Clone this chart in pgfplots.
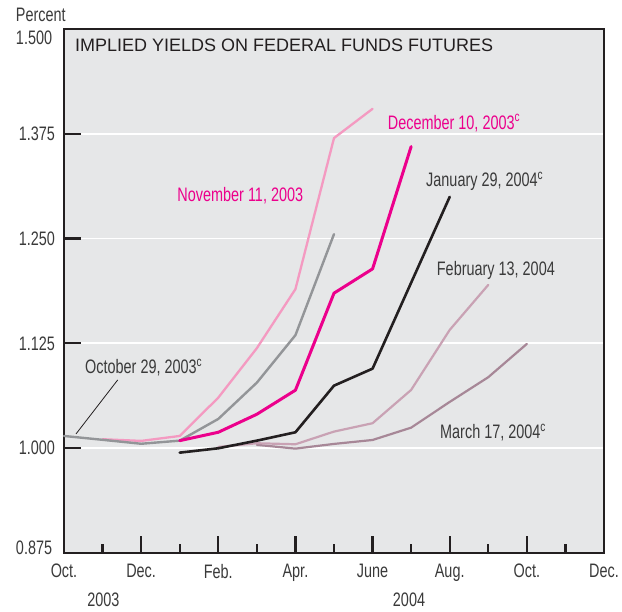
\documentclass[border=0pt]{standalone}
\usepackage{fontspec}
\setmainfont{Liberation Sans}
\newfontfamily\cond[FakeStretch=0.74]{Liberation Sans}
\usepackage{pgfplots}
\pgfplotsset{compat=1.18}
\definecolor{bg}{HTML}{E6E7E8}
\definecolor{frame}{HTML}{231F20}
\definecolor{labgray}{HTML}{3A3A3A}
\definecolor{cgray}{HTML}{939598}
\definecolor{clpink}{HTML}{F49AC1}
\definecolor{chpink}{HTML}{EC008C}
\definecolor{cblack}{HTML}{231F20}
\definecolor{cmauve}{HTML}{C9A2B4}
\definecolor{cdmauve}{HTML}{A78797}
\newcommand\lab{\cond\fontsize{19.5bp}{22bp}\selectfont}
\begin{document}
\begin{tikzpicture}
\useasboundingbox (-64bp,-59bp) rectangle (558bp,553bp);
\begin{axis}[at={(0,0)}, anchor=south west, scale only axis,
  width=540bp, height=524bp,
  xmin=0, xmax=14, ymin=0.875, ymax=1.5,
  axis background/.style={fill=bg},
  axis line style={line width=2.2bp, color=frame},
  xtick={0,2,...,14},
  xticklabels={Oct.,Dec.,Feb.,Apr.,June,Aug.,Oct.,Dec.},
  minor xtick={1,3,...,13},
  ytick={0.875,1,1.125,1.25,1.375,1.5},
  yticklabels={,1.000,1.125,1.250,1.375,},
  tick align=inside, tick pos=left,
  major tick length=17bp, minor tick length=9bp,
  tick style={line width=2.2bp, color=frame},
  ymajorgrids, grid style={white, line width=1.8bp},
  ticklabel style={font=\lab, text=labgray},
  xticklabel style={yshift=-7.5bp},
  yticklabel style={xshift=-5.5bp},
  clip=false,
  every axis plot/.append style={line join=round, line cap=round},
]
\addplot[cdmauve, line width=2.2bp] coordinates {(5,1.0040)(6,0.9995)(7,1.0051)(8,1.0098)(9,1.0245)(10,1.0552)(11,1.0847)(12,1.1244)};
\addplot[cmauve, line width=2.2bp] coordinates {(4,1.0015)(5,1.0059)(6,1.0047)(7,1.0198)(8,1.0298)(9,1.0695)(10,1.1411)(11,1.1948)};
\addplot[clpink, line width=2.3bp] coordinates {(1,1.0107)(2,1.0087)(3,1.0146)(4,1.0603)(5,1.1193)(6,1.1897)(7,1.3699)(8,1.4048)};
\addplot[cgray, line width=2.4bp] coordinates {(0,1.0146)(1,1.0100)(2,1.0053)(3,1.0090)(4,1.0349)(5,1.0782)(6,1.1348)(7,1.2553)};
\addplot[chpink, line width=3bp] coordinates {(3,1.0090)(4,1.0190)(5,1.0405)(6,1.0692)(7,1.1849)(8,1.2139)(9,1.3598)};
\addplot[cblack, line width=2.6bp] coordinates {(3,0.9947)(4,0.9999)(5,1.0090)(6,1.0190)(7,1.0746)(8,1.0949)(9,1.1974)(10,1.2998)};

\draw[line width=0.8bp, color=frame] (axis cs:1.392,1.0814) -- (axis cs:0.311,1.017);
\node[anchor=east, inner sep=0, font=\lab, text=labgray, xshift=-11.7bp, yshift=-9bp] at (axis cs:0,1.5) {1.500};
\node[anchor=east, inner sep=0, font=\lab, text=labgray, xshift=-11.7bp, yshift=5bp] at (axis cs:0,0.875) {0.875};
\node[anchor=base west, inner sep=0, font=\fontsize{18bp}{20bp}\selectfont, text=frame] at (axis cs:0.285,1.4735) {IMPLIED YIELDS ON FEDERAL FUNDS FUTURES};
\node[anchor=base west, inner sep=0, font=\lab, text=labgray] at (axis cs:-1.252,1.5087) {Percent};
\node[anchor=base, inner sep=0, font=\lab, text=labgray] at (axis cs:1.019,0.8106) {2003};
\node[anchor=base, inner sep=0, font=\lab, text=labgray] at (axis cs:8.945,0.8106) {2004};
\node[anchor=base, inner sep=0, font=\lab, text=chpink] at (axis cs:4.571,1.2940) {November 11, 2003};
\node[anchor=base west, inner sep=0, font=\lab, text=chpink] at (axis cs:8.392,1.3802) {December 10, 2003\textsuperscript{c}};
\node[anchor=base west, inner sep=0, font=\lab, text=labgray] at (axis cs:9.386,1.3118) {January 29, 2004\textsuperscript{c}};
\node[anchor=base west, inner sep=0, font=\lab, text=labgray] at (axis cs:9.663,1.2064) {February 13, 2004};
\node[anchor=base west, inner sep=0, font=\lab, text=labgray] at (axis cs:9.748,1.0114) {March 17, 2004\textsuperscript{c}};
\node[anchor=base west, inner sep=0, font=\lab, text=labgray] at (axis cs:0.544,1.0890) {October 29, 2003\textsuperscript{c}};
\end{axis}
\end{tikzpicture}
\end{document}
